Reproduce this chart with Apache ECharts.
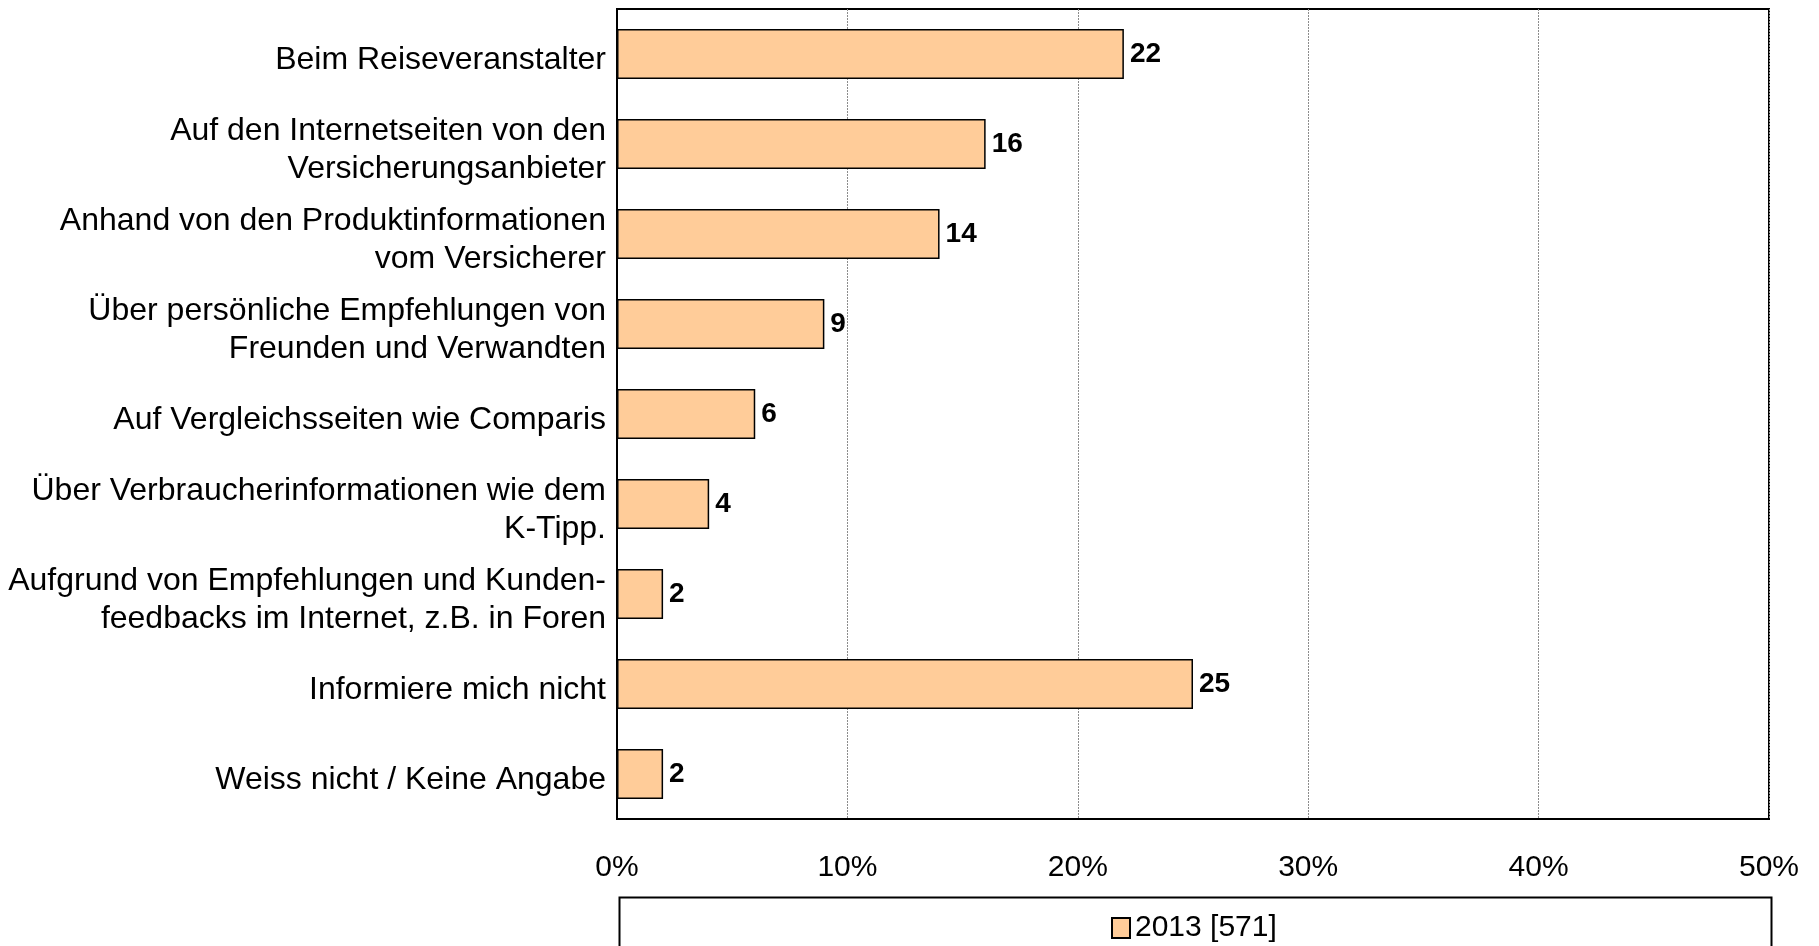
<!DOCTYPE html>
<html>
<head>
<meta charset="utf-8">
<script src="https://cdn.jsdelivr.net/npm/echarts@6/dist/echarts.min.js"></script>
<style>html,body{margin:0;padding:0;background:#fff;}#c{width:1819px;height:946px;}</style>
</head>
<body>
<div id="c"></div>
<script>
const categories = [
  'Beim Reiseveranstalter',
  'Auf den Internetseiten von den\nVersicherungsanbieter',
  'Anhand von den Produktinformationen\nvom Versicherer',
  'Über persönliche Empfehlungen von\nFreunden und Verwandten',
  'Auf Vergleichsseiten wie Comparis',
  'Über Verbraucherinformationen wie dem\nK-Tipp.',
  'Aufgrund von Empfehlungen und Kunden-\nfeedbacks im Internet, z.B. in Foren',
  'Informiere mich nicht',
  'Weiss nicht / Keine Angabe'
];
const values2013 = [22, 16, 14, 9, 6, 4, 2, 25, 2];
const seriesName = '2013 [571]';
const xTicks = [0, 10, 20, 30, 40, 50];

const chart = echarts.init(document.getElementById('c'), null, {renderer: 'canvas'});
const font = 'Liberation Sans, Arial, sans-serif';
chart.setOption({
  animation: false,
  backgroundColor: '#fff',
  textStyle: {fontFamily: font},
  grid: {left: 617, top: 9, width: 1152, height: 810, show: true, borderColor: '#000', borderWidth: 2, containLabel: false},
  xAxis: {
    type: 'value', min: xTicks[0], max: xTicks[xTicks.length - 1], interval: 10,
    axisLine: {show: false}, axisTick: {show: false},
    splitLine: {show: true, lineStyle: {color: '#8c8c8c', width: 1, type: [2, 1]}},
    axisLabel: {formatter: '{value}%', fontSize: 30, color: '#000', margin: 34, fontFamily: font}
  },
  yAxis: {
    type: 'category', data: categories, inverse: true,
    axisLine: {show: true, lineStyle: {color: '#000', width: 2}},
    axisTick: {show: false},
    axisLabel: {
      color: '#000', margin: 11, align: 'right', fontFamily: font, fontSize: 32, lineHeight: 38,
      formatter: function (v) {
        return '{s| }\n' + v.split('\n').map(function (l) { return '{a|' + l + '}'; }).join('\n');
      },
      rich: {
        a: {fontSize: 32, lineHeight: 38, color: '#000', fontFamily: font, align: 'right'},
        s: {fontSize: 2, lineHeight: 12}
      }
    }
  },
  legend: {
    show: true, data: [seriesName], left: 1106, top: 908,
    icon: 'rect', itemWidth: 18, itemHeight: 20, itemGap: 10,
    textStyle: {fontSize: 30, color: '#000', fontFamily: font}
  },
  graphic: [{
    type: 'rect', left: 617, top: 895,
    shape: {width: 1152, height: 60},
    style: {fill: 'none', stroke: '#000', lineWidth: 2},
    silent: true
  }],
  series: [{
    name: seriesName, type: 'bar', data: values2013, barWidth: 50,
    itemStyle: {color: '#FFCC99', borderColor: '#000', borderWidth: 1.5},
    label: {show: true, position: 'right', distance: 6, fontSize: 28, fontWeight: 'bold', color: '#000', fontFamily: font}
  }]
});
</script>
</body>
</html>
